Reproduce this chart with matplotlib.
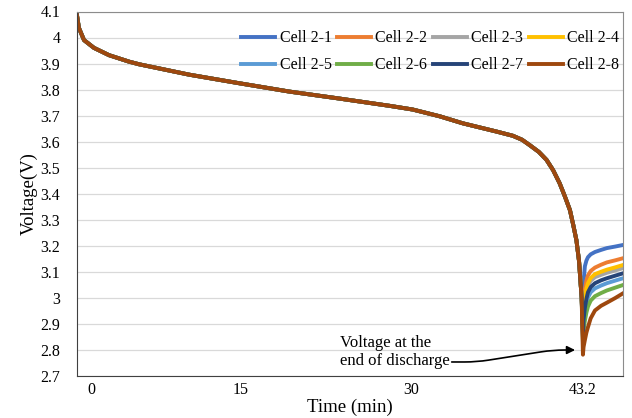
import numpy as np
import matplotlib
matplotlib.use("Agg")
import matplotlib.pyplot as plt

plt.rcParams.update({
    "font.family": ["Liberation Serif", "DejaVu Serif"],
    "font.size": 11.5,
})

# discharge part, shared by all cells (min, V)
t_dis = [-1.41, -1.21, -0.70, 0.30, 1.81, 3.83, 4.83, 7.35, 9.87, 14.9, 19.3,
         23.7, 28.1, 30.08, 32.16, 33.94, 36.56, 37.8, 38.5, 39.1, 39.8, 40.4,
         40.9, 41.4, 41.8, 42.2, 42.45, 42.7, 42.9, 43.0, 43.1]
v_dis = [4.087, 4.037, 3.99, 3.96, 3.932, 3.907, 3.897, 3.877, 3.857, 3.824, 3.792,
         3.765, 3.737, 3.723, 3.697, 3.670, 3.638, 3.622, 3.607, 3.586, 3.56, 3.529,
         3.49, 3.44, 3.39, 3.336, 3.28, 3.22, 3.14, 3.07, 3.0]

# end of discharge + relaxation
t_rest = [43.2, 43.25, 43.35, 43.47, 43.59, 43.8, 44.13, 44.6, 45.05, 45.7, 46.3]
v_rest = {
    "Cell 2-1": [2.93, 3.06, 3.12, 3.142, 3.155, 3.166, 3.175, 3.183, 3.19, 3.196, 3.202],
    "Cell 2-2": [2.89, 2.98, 3.03, 3.065, 3.085, 3.102, 3.115, 3.126, 3.135, 3.143, 3.151],
    "Cell 2-3": [2.87, 2.94, 2.99, 3.025, 3.045, 3.064, 3.078, 3.087, 3.095, 3.104, 3.113],
    "Cell 2-4": [2.88, 2.95, 3.00, 3.035, 3.055, 3.075, 3.09, 3.099, 3.107, 3.116, 3.125],
    "Cell 2-5": [2.84, 2.90, 2.94, 2.975, 3.00, 3.02, 3.035, 3.046, 3.055, 3.065, 3.074],
    "Cell 2-6": [2.83, 2.875, 2.91, 2.942, 2.965, 2.988, 3.005, 3.017, 3.027, 3.038, 3.048],
    "Cell 2-7": [2.85, 2.915, 2.96, 2.995, 3.02, 3.04, 3.055, 3.066, 3.074, 3.084, 3.093],
    "Cell 2-8": [2.78, 2.81, 2.836, 2.865, 2.886, 2.92, 2.95, 2.968, 2.98, 2.998, 3.016],
}
colors = ["#4472C4", "#ED7D31", "#A5A5A5", "#FFC000",
          "#5B9BD5", "#70AD47", "#264478", "#9E480E"]

tick_vals = [0, 15, 30, 43.2]
tick_labels = ["0", "15", "30", "43.2"]

# the time axis is not evenly spaced in the original, piecewise linear scale
anc_t = [-60, -1.4, 0, 15, 30, 43.2, 46.3, 120]
anc_p = [78 - 58.6 * 9.93, 78, 92, 241, 412, 583, 623, 623 + 73.7 * 12.955]
fwd = lambda x: np.interp(x, anc_t, anc_p)
inv = lambda x: np.interp(x, anc_p, anc_t)

fig = plt.figure(figsize=(6.32, 4.18), dpi=100)
ax = fig.add_axes([77 / 632, 1 - 375.5 / 418, 546 / 632, 364 / 418])
ax.set_xscale("function", functions=(fwd, inv))

lines = {}
for (name, vr), c in zip(v_rest.items(), colors):
    lines[name], = ax.plot(t_dis + t_rest, v_dis + vr, color=c, lw=2.8,
                           label=name, solid_joinstyle="round")

ax.set_xlim(-1.4, 46.3)
ax.set_ylim(2.7, 4.1)
ax.set_yticks(np.arange(2.7, 4.101, 0.1))
ax.set_yticklabels(["2.7", "2.8", "2.9", "3", "3.1", "3.2", "3.3", "3.4", "3.5",
                    "3.6", "3.7", "3.8", "3.9", "4", "4.1"])
ax.set_xticks(tick_vals)
ax.set_xticklabels(tick_labels)
ax.tick_params(axis="both", length=0)
ax.tick_params(axis="y", pad=12)
ax.tick_params(axis="x", pad=5)
ax.grid(axis="y", color="#D9D9D9", lw=0.9)
ax.set_axisbelow(True)
for s in ["left", "bottom"]:
    ax.spines[s].set_color("#404040")
for s in ["top", "right"]:
    ax.spines[s].set_color("#8C8C8C")

ax.set_xlabel("Time (min)", fontsize=13.5, labelpad=0)
ax.set_ylabel("Voltage(V)", fontsize=13.5, labelpad=2)

order = ["Cell 2-1", "Cell 2-5", "Cell 2-2", "Cell 2-6",
         "Cell 2-3", "Cell 2-7", "Cell 2-4", "Cell 2-8"]
ax.legend([lines[n] for n in order], order, ncol=4, frameon=False,
          loc="upper right", bbox_to_anchor=(1.005, 0.966),
          handlelength=2.1, handletextpad=0.3, columnspacing=0.35,
          labelspacing=0.68, borderaxespad=0.0, fontsize=11.5)

ax.text(23.7, 2.79, "Voltage at the\nend of discharge", ha="left", va="center",
        fontsize=12, linespacing=1.15)
ax.annotate("", xy=(42.81, 2.798), xytext=(33.09, 2.752),
            arrowprops=dict(arrowstyle="-|>", color="black", lw=1.2,
                            connectionstyle="arc,angleA=0,angleB=180,armA=25,armB=25,rad=12",
                            mutation_scale=12, shrinkA=0, shrinkB=2))

fig.savefig("out.png", dpi=100)
